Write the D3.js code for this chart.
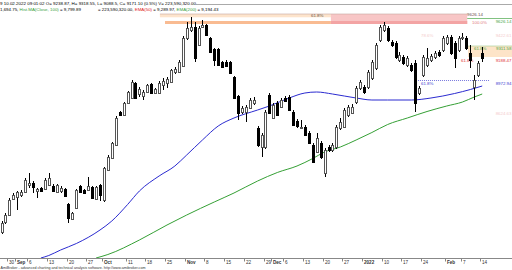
<!DOCTYPE html>
<html>
<head>
<meta charset="utf-8">
<script src="https://cdn.jsdelivr.net/npm/d3@7"></script>
<style>
body { margin: 0; background: #fff; }
svg { display: block; font-family: "Liberation Sans", Arial, sans-serif; }
</style>
</head>
<body>
<svg id="chart" width="512" height="270"></svg>
<script>
// daily bars, weekdays from 27 Aug 2021 to 15 Feb 2022
const firstDay = new Date(2021, 7, 27);
const lastDay = new Date(2022, 1, 15);

const open = [7450,7550,7620,7780,7800,7820,7850,7920,7940,7860,
  7890,7880,7920,7910,7850,7860,7880,7730,7580,7690,
  7910,7870,7870,7900,7780,7920,7770,8070,8190,8320,
  8650,8620,8740,8790,8940,8830,8810,8850,8930,8840,
  8840,8920,8940,8950,9050,9050,9110,9390,9470,9500,
  9320,9500,9520,9390,9280,9280,9150,9150,9150,9000,
  8810,8650,8650,8690,8740,8490,8300,8300,8820,8590,
  8740,8700,8790,8800,8650,8560,8490,8500,8440,8320,
  8250,8340,8040,8300,8270,8300,8490,8500,8620,8640,
  8750,8890,8900,8900,8990,9090,9370,9470,9490,9350,
  9340,9170,9200,9120,9120,9140,8840,9020,9120,9170,
  9200,9250,9270,9340,9400,9340,9270,9390,9390,9238.87,
  8900,9020,9240];
const close = [7540,7620,7770,7820,7850,7850,7970,7940,7900,7880,
  7860,7970,7990,7860,7920,7890,7810,7590,7640,7870,
  7850,7840,7910,7790,7900,7820,8090,8200,8340,8590,
  8620,8740,8850,8950,8790,8880,8850,8920,8840,8880,
  8940,8960,8980,9070,9080,9150,9390,9490,9500,9190,
  9490,9520,9420,9250,9170,9120,9100,9110,9040,8790,
  8640,8690,8700,8770,8770,8320,8420,8650,8640,8720,
  8620,8770,8760,8670,8520,8510,8500,8420,8340,8150,
  8390,8200,8270,8270,8320,8500,8550,8670,8700,8700,
  8890,8950,8850,9050,9150,9320,9500,9520,9370,9320,
  9200,9220,9140,9190,9070,8740,8890,9200,9190,9210,
  9240,9220,9390,9400,9240,9190,9390,9400,9290,9171.10,
  8970,9140,9190];
const high = [7560,7640,7790,7840,7860,7870,7990,8040,7960,7890,
  7900,7990,8040,7930,7930,7910,7890,7740,7650,7880,
  7920,7880,8000,7910,7910,7930,8100,8220,8350,8610,
  8660,8750,8860,8970,8950,8900,8870,8930,8940,8890,
  8960,8990,9000,9080,9100,9170,9410,9550,9600,9550,
  9510,9570,9530,9400,9290,9290,9160,9170,9160,9010,
  8820,8710,8720,8790,8800,8510,8440,8670,8840,8740,
  8760,8790,8810,8820,8670,8580,8570,8520,8460,8340,
  8440,8360,8290,8320,8340,8520,8590,8690,8720,8730,
  8910,8970,8920,9070,9170,9340,9520,9550,9510,9370,
  9360,9250,9220,9210,9140,9170,8910,9220,9290,9230,
  9260,9270,9410,9420,9420,9360,9410,9440,9410,9318.55,
  9020,9160,9300];
const low = [7430,7530,7610,7770,7670,7800,7840,7890,7840,7790,
  7850,7870,7910,7850,7840,7840,7800,7540,7570,7680,
  7840,7830,7860,7780,7770,7760,7750,8060,8180,8310,
  8610,8610,8730,8780,8780,8800,8770,8840,8830,8830,
  8830,8870,8890,8940,9030,9040,9100,9370,9450,9150,
  9310,9490,9410,9240,9110,9110,9090,9100,9030,8780,
  8570,8630,8550,8680,8720,8300,8200,8280,8630,8580,
  8610,8690,8750,8660,8510,8490,8480,8410,8330,8140,
  8240,8180,8000,8250,8250,8280,8470,8490,8600,8630,
  8730,8870,8830,8880,8970,9070,9350,9450,9350,9300,
  9180,9150,9120,9100,9050,8650,8820,9000,9100,9150,
  9180,9200,9250,9320,9220,9090,9250,9370,9270,9088.5,
  8770,9000,9150];

// moving averages (bar number, value)
const ma50Bar = [10,12,15,19,25,28,32,35,40,44,47,51,55,59,65,68,73,77,80,84,90,94,98,104,109,115,119,122];
const ma50 = [7190,7215,7270,7335,7470,7560,7725,7860,8010,8110,8220,8370,8510,8590,8670,8710,8790,8840,8850,8830,8790,8770,8770,8770,8790,8835,8875,8910];
const ma200Bar = [24,27,35,42,47,54,59,65,70,75,79,82,86,90,94,98,103,108,113,117,120,122];
const ma200 = [7190,7225,7370,7520,7620,7750,7840,7960,8045,8110,8185,8250,8300,8370,8445,8525,8590,8655,8710,8750,8800,8830];

const tickDates = ["2021-08-30","2021-09-01","2021-09-06","2021-09-13","2021-09-20","2021-09-27",
  "2021-10-01","2021-10-11","2021-10-18","2021-10-25","2021-11-01","2021-11-08","2021-11-15",
  "2021-11-22","2021-11-29","2021-12-01","2021-12-06","2021-12-13","2021-12-20","2021-12-27",
  "2022-01-03","2022-01-10","2022-01-17","2022-01-24","2022-02-01","2022-02-07","2022-02-14"];
const tickLabels = ["30","Sep","6","13","20","27","Oct","11","18","25","Nov","8","15","22",
  "29","Dec","6","13","20","27","2022","10","17","24","Feb","7","14"];
const boldLabels = ["Sep","Oct","Nov","Dec","2022","Feb"];

const svg = d3.select("#chart");
const fmt = d3.timeFormat("%Y-%m-%d");
const days = d3.timeDay.range(firstDay, d3.timeDay.offset(lastDay, 1))
  .filter(d => d.getDay() % 6 !== 0)
  .map(fmt);

const x = d3.scaleLinear().domain([0, days.length - 1]).range([1.5, 482.2]);
const y = d3.scaleLinear().domain([9770, 7190]).range([0, 258]);

svg.append("defs").append("clipPath").attr("id", "plot")
  .append("rect").attr("x", 0).attr("y", 0).attr("width", 512).attr("height", 258.5);

function txt(xp, yp, s, color, size, anchor) {
  return svg.append("text").attr("x", xp).attr("y", yp).text(s)
    .attr("font-size", size || 4.4).attr("fill", color || "#000")
    .attr("text-anchor", anchor || "start");
}

// header lines
svg.append("line").attr("x1", 196).attr("x2", 512).attr("y1", 4.5).attr("y2", 4.5)
  .attr("stroke", "#aaa").attr("stroke-width", 1);
txt(0, 4.6, "9 10.02.2022 09:01:02 O= 9238.87, H= 9318.55, L= 9088.5, C= 9171.10 (0.5%) V= 223,590,320.00")
  .attr("textLength", 196).attr("lengthAdjust", "spacingAndGlyphs");

function row(x0, yp, parts) {
  let xp = x0;
  parts.forEach(p => {
    const t = txt(xp, yp, p[0], p[1]);
    xp += t.node().getComputedTextLength() + 1.2;
  });
}
row(0, 10.8, [["1,694.75,"], ["Hist.MA(Close, 100)", "#3aa13a"], ["= 9,799.89"]]);
row(98, 10.8, [["= 223,590,320.00,"], ["EMA(50)", "#e02020"], ["= 9,289.97,"],
  ["EMA(200)", "#3aa13a"], ["= 9,194.43"]]);

// fibonacci zones at the top
const zoneTop = 9630, zoneMid = 9597, zoneLow1 = 9560, zoneLow2 = 9530;
svg.append("rect").attr("x", x(40.2)).attr("width", x(83.6) - x(40.2))
  .attr("y", y(zoneTop)).attr("height", y(zoneMid) - y(zoneTop)).attr("fill", "#fde4cc");
svg.append("rect").attr("x", x(41.5)).attr("width", x(83.6) - x(41.5))
  .attr("y", y(zoneLow1)).attr("height", y(zoneLow2) - y(zoneLow1)).attr("fill", "#f9bb92");
svg.append("rect").attr("x", x(83.6)).attr("width", x(118.2) - x(83.6))
  .attr("y", y(zoneTop)).attr("height", y(zoneLow2) - y(zoneTop)).attr("fill", "#f8c6c6");
svg.append("rect").attr("x", x(83.6)).attr("width", x(118.2) - x(83.6))
  .attr("y", y(zoneLow1)).attr("height", y(zoneLow2) - y(zoneLow1)).attr("fill", "#f3a4a4");
svg.append("line").attr("x1", x(40.2)).attr("x2", x(118.2)).attr("y1", y(zoneTop)).attr("y2", y(zoneTop))
  .attr("stroke", "#c8a4a0").attr("stroke-width", 0.6);
txt(311, 17, "61.8%", "#6a5a50");
svg.append("line").attr("x1", x(118.2)).attr("x2", 512).attr("y1", 18.5).attr("y2", 18.5)
  .attr("stroke", "#4aa84a").attr("stroke-width", 0.7);
txt(467, 16, "9626.14", "#6b4a4a");
txt(472, 23.5, "100.0%", "#e07a7a");
txt(511.5, 22.5, "9626.14", "#4aa84a", 4.4, "end");

// box and labels on the right
svg.append("rect").attr("x", x(118.4)).attr("width", 512 - x(118.4))
  .attr("y", y(9310)).attr("height", y(9200) - y(9310)).attr("fill", "#fde4c8");
svg.append("line").attr("x1", x(118.4)).attr("x2", 512).attr("y1", y(9310)).attr("y2", y(9310))
  .attr("stroke", "#9fcf8f").attr("stroke-width", 0.6);
txt(474, 49.5, "61.8%", "#4aa84a");
txt(511.5, 49.5, "9311.58", "#4aa84a", 4.4, "end");
txt(461, 61.5, "61.8%", "#e03030");
txt(511.5, 61.5, "9188.47", "#e03030", 4.4, "end");
txt(421, 37, "78.6%", "#f4cccc");
txt(511.5, 37, "9422.61", "#f4cccc", 4.4, "end");
txt(511.5, 115, "8624.63", "#f4cccc", 4.4, "end");

svg.append("line").attr("x1", x(105.7)).attr("x2", 490).attr("y1", y(8970) + 0.5).attr("y2", y(8970) + 0.5)
  .attr("stroke", "#4040d0").attr("stroke-width", 0.7).attr("stroke-dasharray", "1,1");
txt(421, 84.5, "61.8%", "#4040d0");
txt(511.5, 85, "8972.94", "#4040d0", 4.4, "end");

// moving averages
const line = d3.line().x(d => x(d[0])).y(d => y(d[1])).curve(d3.curveMonotoneX);
const maG = svg.append("g").attr("clip-path", "url(#plot)");
maG.append("path").datum(d3.zip(ma200Bar, ma200)).attr("d", line)
  .attr("fill", "none").attr("stroke", "#35a035").attr("stroke-width", 1);
maG.append("path").datum(d3.zip(ma50Bar, ma50)).attr("d", line)
  .attr("fill", "none").attr("stroke", "#2b2bd0").attr("stroke-width", 1);

// candles
const bars = open.map((o, i) => ({ i: i, o: o, h: high[i], l: low[i], c: close[i] }));
const cg = svg.append("g");
cg.selectAll("line").data(bars).join("line")
  .attr("x1", d => Math.round(x(d.i)) + 0.5).attr("x2", d => Math.round(x(d.i)) + 0.5)
  .attr("y1", d => Math.round(y(d.h))).attr("y2", d => Math.round(y(d.l)))
  .attr("stroke", "#000").attr("stroke-width", 1);
cg.selectAll("rect").data(bars).join("rect")
  .attr("x", d => Math.round(x(d.i)) - 0.5)
  .attr("y", d => Math.round(y(Math.max(d.o, d.c))) + 0.5)
  .attr("width", 2)
  .attr("height", d => Math.max(1, Math.round(y(Math.min(d.o, d.c))) - Math.round(y(Math.max(d.o, d.c)))))
  .attr("fill", d => d.c >= d.o ? "#fff" : "#000")
  .attr("stroke", d => d.c >= d.o ? "#555" : "#000")
  .attr("stroke-width", 1);

// date axis
svg.append("line").attr("x1", 0).attr("x2", 512).attr("y1", 258.5).attr("y2", 258.5)
  .attr("stroke", "#888").attr("stroke-width", 1);
const ticks = tickDates.map((d, k) => ({ i: days.indexOf(d), label: tickLabels[k] }));
svg.selectAll("line.tick").data(ticks).join("line").attr("class", "tick")
  .attr("x1", d => Math.round(x(d.i)) + 2.5).attr("x2", d => Math.round(x(d.i)) + 2.5)
  .attr("y1", 259).attr("y2", 261.5).attr("stroke", "#666").attr("stroke-width", 0.8);
svg.selectAll("text.tick").data(ticks).join("text").attr("class", "tick")
  .attr("x", d => Math.round(x(d.i)) + 4).attr("y", 263.8)
  .attr("font-size", 4.6).attr("fill", "#333")
  .attr("font-weight", d => boldLabels.includes(d.label) ? "bold" : "normal")
  .text(d => d.label);

svg.append("text").attr("x", 0.5).attr("y", 268.6)
  .attr("font-size", 4).attr("fill", "#333")
  .attr("textLength", 145).attr("lengthAdjust", "spacingAndGlyphs")
  .text("AmiBroker - advanced charting and technical analysis software. http://www.amibroker.com");
</script>
</body>
</html>
